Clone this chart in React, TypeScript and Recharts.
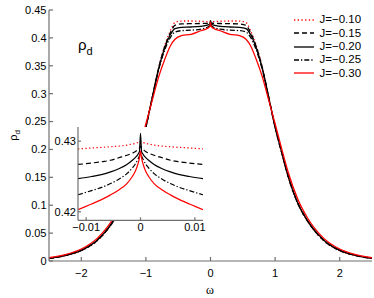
import { LineChart, Line, XAxis, YAxis, Legend, CartesianGrid } from "recharts";

// main panel: rho_d against omega
const omega = [
  -2.5, -2.25, -2.0, -1.75, -1.5, -1.35, -1.2, -1.1, -1.0, -0.9, -0.8, -0.7, -0.62, -0.55, -0.45, -0.3, -0.15,
  -0.05, -0.01, 0, 0.01, 0.05, 0.15, 0.3, 0.45, 0.55, 0.62, 0.7, 0.8, 0.9, 1.0, 1.1, 1.2, 1.35, 1.5, 1.75, 2.0,
  2.25, 2.5,
];
const rhoJ10 = [
  0.0045, 0.0095, 0.0185, 0.0365, 0.0715, 0.103, 0.151, 0.194, 0.239, 0.294, 0.348, 0.389, 0.413, 0.4275, 0.4302,
  0.4303, 0.4298, 0.4292, 0.4289, 0.43, 0.4289, 0.4292, 0.4298, 0.4303, 0.4302, 0.4275, 0.413, 0.389, 0.348, 0.294,
  0.239, 0.194, 0.151, 0.103, 0.0715, 0.0365, 0.0185, 0.0095, 0.0045,
];
const rhoJ15 = [
  0.0046, 0.0097, 0.0188, 0.037, 0.072, 0.1035, 0.152, 0.195, 0.24, 0.294, 0.347, 0.387, 0.4095, 0.4225, 0.425,
  0.4255, 0.4258, 0.4262, 0.4267, 0.4292, 0.4267, 0.4262, 0.4258, 0.4255, 0.425, 0.4225, 0.4095, 0.387, 0.347,
  0.294, 0.24, 0.195, 0.152, 0.1035, 0.072, 0.037, 0.0188, 0.0097, 0.0046,
];
const rhoJ20 = [
  0.0047, 0.0099, 0.019, 0.0375, 0.0725, 0.104, 0.153, 0.196, 0.24, 0.294, 0.346, 0.385, 0.406, 0.4168, 0.419,
  0.4195, 0.4208, 0.4228, 0.4248, 0.4311, 0.4248, 0.4228, 0.4208, 0.4195, 0.419, 0.4168, 0.406, 0.385, 0.346,
  0.294, 0.24, 0.196, 0.153, 0.104, 0.0725, 0.0375, 0.019, 0.0099, 0.0047,
];
const rhoJ25 = [
  0.0049, 0.0102, 0.0195, 0.038, 0.073, 0.105, 0.154, 0.197, 0.241, 0.293, 0.344, 0.381, 0.401, 0.4105, 0.413,
  0.4138, 0.4158, 0.419, 0.4225, 0.4284, 0.4225, 0.419, 0.4158, 0.4138, 0.413, 0.4105, 0.401, 0.381, 0.344,
  0.293, 0.241, 0.197, 0.154, 0.105, 0.073, 0.038, 0.0195, 0.0102, 0.0049,
];
const rhoJ30 = [
  0.0058, 0.0115, 0.0215, 0.041, 0.0775, 0.111, 0.16, 0.202, 0.246, 0.289, 0.331, 0.364, 0.386, 0.3975, 0.404,
  0.4065, 0.4128, 0.4168, 0.4205, 0.4285, 0.4205, 0.4168, 0.4128, 0.4065, 0.404, 0.3975, 0.386, 0.364, 0.331,
  0.289, 0.246, 0.202, 0.16, 0.111, 0.0775, 0.041, 0.0215, 0.0115, 0.0058,
];

// inset: zoom on the cusp at omega = 0
const insetOmega = [
  -0.0115, -0.009, -0.007, -0.0055, -0.004, -0.0025, -0.0015, -0.001, -0.0005, -0.0002, 0, 0.0002, 0.0005, 0.001,
  0.0015, 0.0025, 0.004, 0.0055, 0.007, 0.009, 0.0115,
];
const insetJ10 = [
  0.4289, 0.42903, 0.42912, 0.4292, 0.4293, 0.42943, 0.4296, 0.42967, 0.4298, 0.4299, 0.43, 0.4299, 0.4298,
  0.42967, 0.4296, 0.42943, 0.4293, 0.4292, 0.42912, 0.42903, 0.4289,
];
const insetJ15 = [
  0.4267, 0.4269, 0.4271, 0.4273, 0.42765, 0.428, 0.4283, 0.42849, 0.4288, 0.429, 0.4293, 0.429, 0.4288, 0.42849,
  0.4283, 0.428, 0.42765, 0.4273, 0.4271, 0.4269, 0.4267,
];
const insetJ20 = [
  0.4247, 0.425, 0.4253, 0.42566, 0.4261, 0.4267, 0.4273, 0.42764, 0.4281, 0.4285, 0.4311, 0.4285, 0.4281,
  0.42764, 0.4273, 0.4267, 0.4261, 0.42566, 0.4253, 0.425, 0.4247,
];
const insetJ25 = [
  0.4224, 0.423, 0.4235, 0.424, 0.4246, 0.4254, 0.4262, 0.4267, 0.4274, 0.4279, 0.4284, 0.4279, 0.4274, 0.4267,
  0.4262, 0.4254, 0.4246, 0.424, 0.4235, 0.423, 0.4224,
];
const insetJ30 = [
  0.4203, 0.4211, 0.4218, 0.4224, 0.4231, 0.424, 0.425, 0.42566, 0.4267, 0.4276, 0.4286, 0.4276, 0.4267, 0.42566,
  0.425, 0.424, 0.4231, 0.4224, 0.4218, 0.4211, 0.4203,
];

const mainXTicks = [-2, -1, 0, 1, 2];
const mainYTicks = [0, 0.05, 0.1, 0.15, 0.2, 0.25, 0.3, 0.35, 0.4, 0.45];
const insetXTicks = [-0.01, 0, 0.01];
const insetYTicks = [0.42, 0.43];
const seriesNames = ["J=−0.10", "J=−0.15", "J=−0.20", "J=−0.25", "J=−0.30"];

const series = [
  { key: "j10", name: seriesNames[0], color: "#ff0000", dash: "1.3 2.4" },
  { key: "j15", name: seriesNames[1], color: "#000000", dash: "5 3" },
  { key: "j20", name: seriesNames[2], color: "#000000", dash: undefined },
  { key: "j25", name: seriesNames[3], color: "#000000", dash: "5 2 1.3 2" },
  { key: "j30", name: seriesNames[4], color: "#ff0000", dash: undefined },
];

const mainData = omega.map((w, i) => ({
  omega: w,
  j10: rhoJ10[i],
  j15: rhoJ15[i],
  j20: rhoJ20[i],
  j25: rhoJ25[i],
  j30: rhoJ30[i],
}));

const insetData = insetOmega.map((w, i) => ({
  omega: w,
  j10: insetJ10[i],
  j15: insetJ15[i],
  j20: insetJ20[i],
  j25: insetJ25[i],
  j30: insetJ30[i],
}));

const FONT = '"Liberation Sans", Arial, sans-serif';
const AXIS = "#6f6f6f";
const tickStyle = { fontSize: 11, fontFamily: FONT, fill: "#000" };
const fmt = (v: number) => String(v).replace("-", "−");

function renderLegend() {
  return (
    <div style={{ fontFamily: FONT, fontSize: 11.5, color: "#000" }}>
      {series.map((s) => (
        <div key={s.key} style={{ display: "flex", alignItems: "center", height: 13.3 }}>
          <svg width={20} height={6}>
            <line x1={0} x2={20} y1={3} y2={3} stroke={s.color} strokeWidth={1.3} strokeDasharray={s.dash} />
          </svg>
          <span style={{ marginLeft: 6, lineHeight: "13px" }}>{s.name}</span>
        </div>
      ))}
    </div>
  );
}

function renderLines(width: number) {
  return series.map((s) => (
    <Line
      key={s.key}
      xAxisId="b"
      yAxisId="l"
      type="monotone"
      dataKey={s.key}
      name={s.name}
      stroke={s.color}
      strokeWidth={width}
      strokeDasharray={s.dash}
      dot={false}
      activeDot={false}
      isAnimationActive={false}
    />
  ));
}

export default function App() {
  return (
    <div style={{ position: "absolute", left: 0, top: 0, width: 374, height: 298, background: "#fff" }}>
      <LineChart width={374} height={298} data={mainData} margin={{ top: 10, right: 2, bottom: 0, left: 0 }}>
        <XAxis
          xAxisId="b"
          dataKey="omega"
          type="number"
          domain={[-2.5, 2.5]}
          ticks={mainXTicks}
          tickFormatter={fmt}
          tick={tickStyle}
          tickSize={-4}
          tickMargin={12}
          height={37}
          stroke={AXIS}
          strokeWidth={1.2}
          allowDataOverflow
          label={{
            content: () => (
              <text x={210} y={294} textAnchor="middle" fontFamily='"Liberation Serif", serif' fontSize={12}>
                ω
              </text>
            ),
          }}
        />
        <XAxis
          xAxisId="t"
          orientation="top"
          dataKey="omega"
          type="number"
          domain={[-2.5, 2.5]}
          ticks={mainXTicks}
          tick={false}
          tickSize={-4}
          height={0}
          stroke={AXIS}
          strokeWidth={1.2}
          allowDataOverflow
        />
        <YAxis
          yAxisId="l"
          type="number"
          domain={[0, 0.45]}
          ticks={mainYTicks}
          tickFormatter={fmt}
          tick={tickStyle}
          tickSize={-4}
          tickMargin={6.5}
          width={49}
          stroke={AXIS}
          strokeWidth={1.2}
          allowDataOverflow
          label={{
            content: () => (
              <text x={17} y={135.5} transform="rotate(-90 17 135.5)" textAnchor="middle" fontFamily={FONT} fontSize={11}>
                ρ
                <tspan fontSize={8} dy={3}>
                  d
                </tspan>
              </text>
            ),
          }}
        />
        <YAxis
          yAxisId="r"
          orientation="right"
          type="number"
          domain={[0, 0.45]}
          ticks={mainYTicks}
          tick={false}
          tickSize={-4}
          width={0}
          stroke={AXIS}
          strokeWidth={1.2}
        />
        <Legend
          content={renderLegend}
          layout="horizontal"
          verticalAlign="middle"
          align="center"
          wrapperStyle={{ top: 13.3, left: 293.5, width: 80, bottom: "auto", right: "auto" }}
        />
        {renderLines(1.3)}
      </LineChart>

      <div
        style={{
          position: "absolute",
          left: 78,
          top: 37.3,
          fontFamily: FONT,
          fontSize: 15,
          lineHeight: 1,
          color: "#000",
        }}
      >
        ρ<span style={{ fontSize: 11, position: "relative", top: 5 }}>d</span>
      </div>

      <div style={{ position: "absolute", left: 48.3, top: 124.7 }}>
        <LineChart width={159} height={116} data={insetData} margin={{ top: 2, right: 4, bottom: 0, left: 0 }}>
          <CartesianGrid xAxisId="b" yAxisId="l" fill="#fff" stroke="none" horizontal={false} vertical={false} />
          <XAxis
            xAxisId="b"
            dataKey="omega"
            type="number"
            domain={[-0.0115, 0.0115]}
            ticks={insetXTicks}
            tickFormatter={fmt}
            tick={tickStyle}
            tickSize={-3}
            tickMargin={6}
            height={20.7}
            stroke={AXIS}
            strokeWidth={1.2}
            allowDataOverflow
          />
          <XAxis
            xAxisId="t"
            orientation="top"
            dataKey="omega"
            type="number"
            domain={[-0.0115, 0.0115]}
            ticks={insetXTicks}
            tick={false}
            tickSize={-3}
            height={0}
            stroke={AXIS}
            strokeWidth={1.2}
            allowDataOverflow
          />
          <YAxis
            yAxisId="l"
            type="number"
            domain={[0.4188, 0.432]}
            ticks={insetYTicks}
            tickFormatter={fmt}
            tick={tickStyle}
            tickSize={-3}
            tickMargin={5}
            width={30}
            stroke={AXIS}
            strokeWidth={1.2}
            allowDataOverflow
          />
          <YAxis
            yAxisId="r"
            orientation="right"
            type="number"
            domain={[0.4188, 0.432]}
            ticks={insetYTicks}
            tick={false}
            tickSize={-3}
            width={0}
            stroke={AXIS}
            strokeWidth={1.2}
          />
          {renderLines(1.2)}
        </LineChart>
      </div>
    </div>
  );
}
